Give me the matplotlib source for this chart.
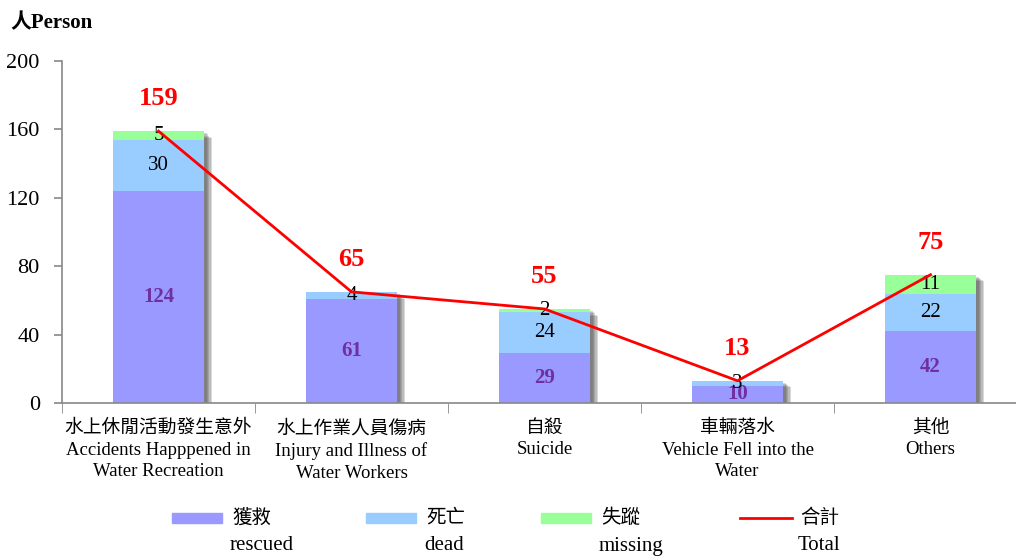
"""
    stacked bar chart of water accidents
"""

import matplotlib
matplotlib.use('Agg')
import matplotlib.pyplot as plt
import matplotlib.patheffects as pe
from matplotlib.patches import Rectangle
from matplotlib.lines import Line2D
import numpy as np

plt.rcParams['font.family'] = ['Liberation Serif', 'Noto Sans CJK TC', 'DejaVu Sans']

categories = ['水上休閒活動發生意外\nAccidents Happpened in\nWater Recreation',
              '水上作業人員傷病\nInjury and Illness of\nWater Workers',
              '自殺\nSuicide',
              '車輛落水\nVehicle Fell into the\nWater',
              '其他\nOthers']
rescued = [124, 61, 29, 10, 42]
dead = [30, 4, 24, 3, 22]
missing = [5, 0, 2, 0, 11]
totals = [159, 65, 55, 13, 75]
yticks = [0, 40, 80, 120, 160, 200]

legend_cn = ['獲救', '死亡', '失蹤', '合計']
legend_en = ['rescued', 'dead', 'missing', 'Total']

c_res = '#9999FF'
c_dead = '#99CCFF'
c_miss = '#99FF99'

W, H = 1016, 557
fig = plt.figure(figsize=(W / 100, H / 100), dpi=100)
ax = fig.add_axes([62 / W, 1 - 403 / H, 965 / W, 342 / H])

x = np.arange(len(categories))
bw = 0.47

# soft shadow behind each stack
shadows = [pe.SimplePatchShadow(offset=(k, -k * 0.8), shadow_rgbFace='#444444', alpha=0.2)
           for k in [6, 5, 4, 3, 2]]
ax.bar(x, totals, bw, color='none', zorder=1, path_effects=shadows)

r = np.array(rescued)
d = np.array(dead)
m = np.array(missing)
ax.bar(x, r, bw, color=c_res, zorder=2)
ax.bar(x, d, bw, bottom=r, color=c_dead, zorder=2)
ax.bar(x, m, bw, bottom=r + d, color=c_miss, zorder=2)

ax.plot(x, totals, color='red', lw=2, zorder=4)

for i in range(len(x)):
    ax.text(x[i], r[i] / 2, str(r[i]), ha='center', va='center', fontsize=15,
            fontweight='bold', color='#7030A0', zorder=3)
    if d[i] > 0:
        ax.text(x[i], r[i] + d[i] / 2, str(d[i]), ha='center', va='center',
                fontsize=15, color='black', zorder=3)
    if m[i] > 0:
        ax.text(x[i], r[i] + d[i] + m[i] / 2, str(m[i]), ha='center', va='center',
                fontsize=15, color='black', zorder=3)
    ax.annotate(str(totals[i]), (x[i], totals[i]), xytext=(0, 23.5),
                textcoords='offset points', ha='center', va='center',
                fontsize=19, fontweight='bold', color='red', zorder=5)

ax.set_xlim(-0.5, len(x) - 0.5)
ax.set_ylim(0, 200)
ax.set_yticks(yticks)
ax.set_xticks(x)
ax.set_xticklabels(categories, fontsize=13.5, linespacing=1.35)
ax.set_xticks(np.arange(len(x) + 1) - 0.5, minor=True)
ax.tick_params(axis='x', which='major', length=0, pad=12)
ax.tick_params(axis='x', which='minor', length=7, color='#888888', direction='out')
ax.tick_params(axis='y', labelsize=16, length=6, color='#888888', width=1.2, pad=10)
for s in ['top', 'right']:
    ax.spines[s].set_visible(False)
for s in ['left', 'bottom']:
    ax.spines[s].set_color('#888888')
    ax.spines[s].set_linewidth(1.2)

fig.text(10 / W, 1 - 23 / H, '人Person', fontsize=15, fontweight='bold', va='center')

# legend drawn by hand
lx = [172, 366, 541, 740]
colors = [c_res, c_dead, c_miss]
for i in range(4):
    if i < 3:
        fig.add_artist(Rectangle((lx[i] / W, 1 - 523 / H), 50 / W, 10 / H,
                                 transform=fig.transFigure, color=colors[i]))
    else:
        fig.add_artist(Line2D([lx[i] / W, (lx[i] + 52) / W], [1 - 518 / H, 1 - 518 / H],
                              transform=fig.transFigure, color='red', lw=2))
    fig.text((lx[i] + 60) / W, 1 - 518 / H, legend_cn[i], fontsize=14, va='center')
    fig.text((lx[i] + 58) / W, 1 - 546 / H, legend_en[i], fontsize=15, va='center')

plt.savefig('out.png')
plt.close()
